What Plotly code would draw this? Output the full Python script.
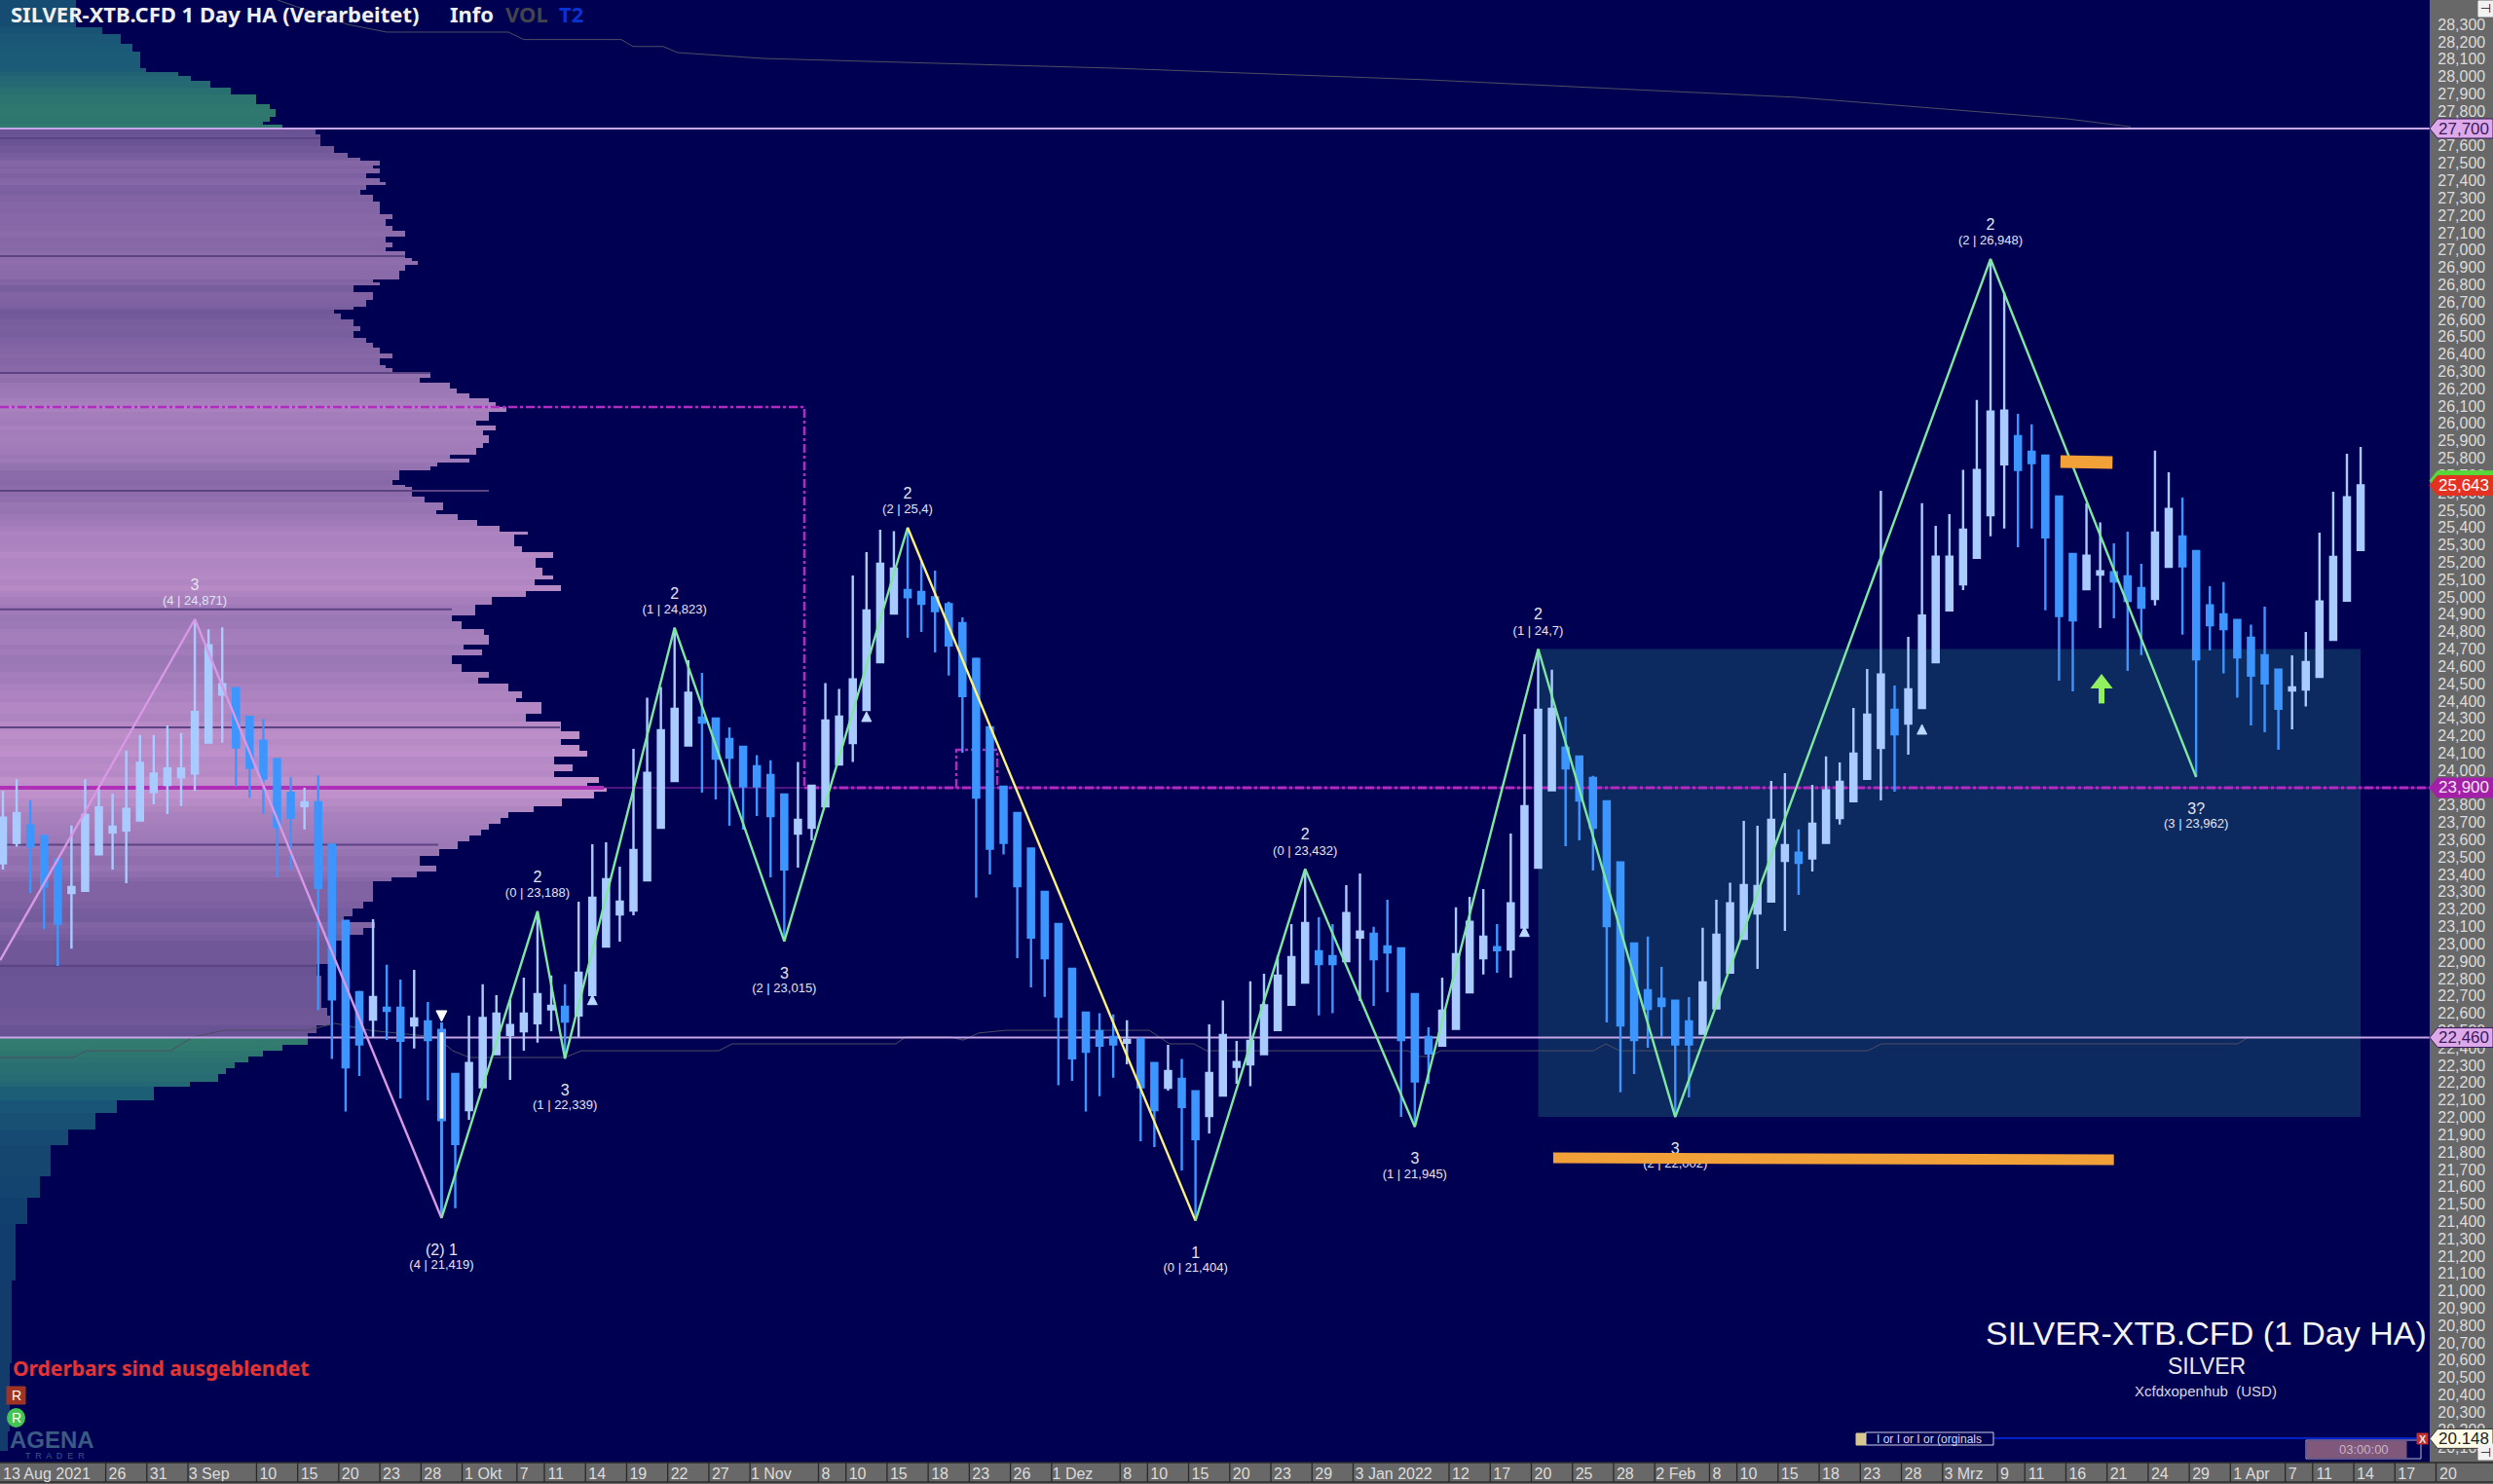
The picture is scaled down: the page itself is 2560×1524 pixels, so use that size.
import plotly.graph_objects as go

# ---------- chart data (prices in USD thousandths style) ----------
opens = [23.465,23.583,23.683,23.621,23.487,23.294,23.306,23.516,23.643,23.654,
23.711,23.876,23.916,23.96,23.982,24.16,24.437,24.474,24.308,24.171,
24.064,23.871,23.794,23.816,23.572,23.133,22.721,22.564,22.632,22.632,
22.53,22.553,21.986,22.25,22.042,22.173,22.364,22.476,22.497,22.542,
22.622,22.637,22.588,22.706,22.985,23.17,23.193,23.367,23.67,23.939,
24.144,24.304,24.299,24.181,24.136,24.024,23.973,23.861,23.636,23.67,
23.793,24.035,24.158,24.349,24.624,24.905,25.04,25.028,24.998,24.958,
24.849,24.643,24.248,23.906,23.754,23.549,23.3,23.114,22.856,22.603,
22.497,22.463,22.431,22.452,22.313,22.171,22.222,22.151,22.008,22.126,
22.291,22.306,22.364,22.503,22.65,22.777,22.957,22.929,22.901,23.036,
23.058,22.985,22.974,22.71,22.463,22.413,22.51,22.721,22.918,22.981,
22.968,23.094,23.44,23.885,24.13,24.08,23.956,23.822,23.47,23.002,
22.733,22.684,22.673,22.553,22.482,22.628,22.834,23.03,23.176,23.245,
23.479,23.526,23.492,23.582,23.726,23.822,23.951,24.13,24.349,24.27,
24.36,24.624,24.923,25.073,25.226,25.472,25.765,25.926,25.837,25.814,
25.578,25.247,25.045,25.129,25.142,25.118,25.051,24.989,25.174,25.348,
25.264,24.951,24.899,24.867,24.765,24.663,24.581,24.461,24.467,24.54,
24.753,24.979,25.27]
closes = [23.727,23.754,23.561,23.332,23.117,23.328,23.743,23.787,23.676,23.778,
24.044,23.982,24.011,24.011,24.337,24.721,24.497,24.133,24.015,23.953,
23.672,23.727,23.816,23.323,22.68,22.289,22.42,22.693,22.614,22.441,
22.57,22.446,22.502,21.846,22.313,22.572,22.598,22.532,22.598,22.71,
22.643,22.553,22.834,23.266,23.373,23.243,23.541,23.986,24.231,24.355,
24.447,24.276,24.068,24.074,23.908,23.908,23.737,23.429,23.715,23.911,
24.288,24.31,24.525,24.922,25.191,25.163,24.998,24.961,24.918,24.72,
24.428,23.844,23.549,23.582,23.333,23.036,22.918,22.581,22.341,22.379,
22.413,22.42,22.446,22.173,22.042,22.267,22.06,21.874,22.255,22.474,
22.319,22.441,22.645,22.817,22.924,23.12,22.884,22.884,23.178,23.071,
22.912,22.951,22.446,22.207,22.369,22.615,22.94,23.127,23.041,22.963,
23.234,23.793,24.349,24.355,24.012,23.827,23.67,23.103,22.53,22.446,
22.626,22.643,22.42,22.42,22.777,23.053,23.234,23.339,23.333,23.715,
23.569,23.468,23.692,23.885,23.934,24.097,24.321,24.553,24.209,24.467,
24.892,25.232,25.232,25.388,25.732,26.068,26.074,25.732,25.771,25.344,
24.89,24.865,25.238,25.148,25.09,24.978,24.938,25.371,25.507,25.176,
24.641,24.837,24.815,24.652,24.546,24.501,24.356,24.478,24.624,24.974,
25.23,25.574,25.643]
highs = [23.882,23.949,23.827,23.63,23.49,23.683,23.949,23.893,23.865,24.115,
24.204,24.204,24.259,24.215,24.869,24.814,24.825,24.48,24.31,24.297,
24.07,23.96,23.9,23.971,23.575,23.135,22.73,23.142,22.88,22.794,
22.85,22.665,22.547,22.25,22.587,22.768,22.705,22.676,22.806,23.183,
22.818,22.768,23.243,23.575,23.586,23.445,24.125,24.419,24.481,24.818,
24.635,24.562,24.3,24.248,24.14,24.088,24.059,23.865,24.048,23.915,
24.503,24.47,25.124,25.258,25.388,25.379,25.395,25.213,25.152,24.972,
24.882,24.65,24.25,23.91,23.76,23.55,23.3,23.115,22.86,22.61,
22.6,22.594,22.56,22.46,22.32,22.418,22.336,22.155,22.536,22.673,
22.441,22.785,22.828,22.935,23.114,23.429,23.154,23.114,23.339,23.406,
23.099,23.255,22.98,22.715,22.519,22.806,23.211,23.271,23.316,23.114,
23.636,24.209,24.699,24.581,24.31,24.08,23.969,23.825,23.47,23.005,
23.043,22.867,22.675,22.693,23.093,23.255,23.352,23.709,23.681,23.939,
23.984,23.66,23.917,24.081,24.046,24.36,24.585,25.612,24.49,24.77,
25.541,25.41,25.477,25.732,26.136,26.944,26.757,26.055,25.995,25.815,
25.58,25.25,25.541,25.429,25.309,25.376,25.191,25.844,25.719,25.573,
25.265,25.062,25.086,24.87,24.84,24.944,24.585,24.663,24.798,25.371,
25.606,25.825,25.865]
lows = [23.428,23.561,23.294,23.084,22.873,22.973,23.306,23.516,23.428,23.35,
23.711,23.805,23.749,23.794,23.882,24.16,24.16,23.909,23.842,23.749,
23.383,23.428,23.66,22.618,22.336,22.033,22.239,22.463,22.446,22.11,
22.397,22.098,21.425,21.477,21.986,22.173,22.364,22.216,22.385,22.43,
22.497,22.341,22.463,22.706,22.985,23.013,23.165,23.367,23.67,23.939,
24.144,23.872,23.833,23.681,23.659,23.737,23.384,23.013,23.44,23.597,
23.793,24.035,24.048,24.349,24.624,24.905,24.765,24.798,24.68,24.547,
24.102,23.267,23.4,23.516,22.918,22.749,22.695,22.185,22.21,22.033,
22.122,22.229,22.306,21.863,21.829,22.154,21.694,21.408,21.907,22.126,
22.194,22.179,22.364,22.503,22.645,22.777,22.588,22.6,22.901,22.671,
22.643,22.721,22.003,21.948,22.194,22.413,22.51,22.721,22.824,22.834,
22.806,23.094,23.44,23.885,23.563,23.597,23.423,22.547,22.145,22.25,
22.401,22.463,22.005,22.115,22.482,22.628,22.834,23.03,22.856,23.245,
23.075,23.283,23.417,23.582,23.688,23.822,23.951,23.827,23.878,24.091,
24.36,24.624,24.923,25.04,25.226,25.35,25.395,25.287,25.395,24.923,
24.518,24.456,25.045,24.821,24.877,24.574,24.665,24.951,25.174,24.783,
23.964,24.691,24.559,24.419,24.259,24.22,24.119,24.237,24.368,24.54,
24.753,24.979,25.27]
bar_index = list(range(len(opens)))
highlight_bar = 32

date_labels = ["13 Aug 2021","26","31","3 Sep","10","15","20","23","28","1 Okt","7","11","14","19","22","27",
"1 Nov","8","10","15","18","23","26","1 Dez","8","10","15","20","23","29","3 Jan 2022","12","17","20","25","28",
"2 Feb","8","10","15","18","23","28","3 Mrz","9","11","16","21","24","29","1 Apr","7","11","14","17","20"]
date_bars = [0,8,11,14,19,22,25,28,31,34,38,40,43,46,49,52,55,60,62,65,68,71,74,77,82,84,87,90,93,96,
99,106,109,112,115,118,121,125,127,130,133,136,139,142,146,148,151,154,157,160,163,167,169,172,175,178]

# volume profile: top price of each row and its length
profile_tops = [28.441,28.282,28.245,28.188,28.142,28.048,28.026,28.001,27.973,27.936,27.898,27.842,27.814,27.767,27.739,27.721,27.702,
27.693,27.665,27.599,27.562,27.534,27.515,27.487,27.468,27.44,27.412,27.393,27.375,27.346,27.318,27.281,27.206,27.178,27.141,27.109,27.075,27.041,27.015,26.991,26.954,26.935,26.912,26.879,26.832,26.813,26.794,26.757,26.71,26.673,26.654,26.636,26.598,26.561,26.533,26.495,26.467,26.439,26.402,26.374,26.336,26.317,26.299,26.261,26.233,26.201,26.173,26.143,26.121,26.093,26.065,26.018,25.99,25.962,25.934,25.887,25.859,25.822,25.799,25.775,25.752,25.728,25.672,25.644,
25.634,25.579,25.545,25.501,25.479,25.445,25.412,25.379,25.357,25.29,25.257,25.224,25.168,25.124,25.102,25.068,25.035,25.002,24.957,24.891,24.858,24.813,24.78,24.725,24.698,24.663,24.614,24.569,24.536,24.503,24.458,24.419,24.392,24.325,24.281,24.226,24.181,24.148,24.115,24.081,24.037,23.997,23.959,23.926,23.9,23.877,23.837,23.793,23.76,23.727,23.693,23.66,23.627,23.589,23.549,23.505,23.449,23.416,23.383,23.361,23.243,23.205,23.161,23.123,23.094,23.05,23.017,22.884,22.817,22.629,22.584,22.529,22.484,
22.46,22.418,22.385,22.351,22.318,22.285,22.252,22.207,22.174,22.098,22.025,21.93,21.84,21.66,21.537,21.385,21.06,20.583,20.19]
profile_bottom = 20.08
profile_volumes = [78,105,124,136,144,150,183,196,216,237,263,277,283,277,270,290,310,
324,329,343,357,370,390,383,390,376,390,396,376,370,383,390,403,396,403,416,396,403,396,416,423,429,416,410,383,390,363,383,376,363,343,350,363,370,363,376,383,390,403,390,396,403,442,431,462,469,482,502,509,520,502,489,509,496,502,496,489,462,482,449,442,410,403,416,
423,436,455,448,470,490,513,542,528,536,568,550,557,568,549,576,540,505,488,464,474,497,502,476,495,464,474,502,491,522,536,530,556,540,576,595,576,595,603,569,588,569,615,603,623,610,577,548,522,514,502,494,482,470,451,431,448,428,402,383,373,362,353,385,373,356,340,325,330,336,339,325,316,
316,290,270,255,241,232,224,195,158,120,98,70,52,41,28,16,12,10,8]
profile_grid_prices = [27.644,26.965,26.291,25.612,24.929,24.248,23.571,22.873]
profile_grid_volumes = [329,416,442,502,464,575,450,325]

# swing pivots
pivot_bars   = [14,32,39,41,49,57,66,87,95,103,112,122,145,160]
pivot_prices = [24.871,21.419,23.188,22.339,24.823,23.015,25.4,21.404,23.432,21.945,24.7,22.002,26.948,23.962]
pivot_titles = ["3","(2) 1","2","3","2","3","2","1","2","3","2","3","2","3?"]
pivot_notes  = ["(4 | 24,871)","(4 | 21,419)","(0 | 23,188)","(1 | 22,339)","(1 | 24,823)","(2 | 23,015)","(2 | 25,4)",
                "(0 | 21,404)","(0 | 23,432)","(1 | 21,945)","(1 | 24,7)","(2 | 22,002)","(2 | 26,948)","(3 | 23,962)"]
pivot_is_high = [1,0,1,0,1,0,1,0,1,0,1,0,1,0]
pink_start = (-0.2, 22.906)

# levels
vah, val, poc, last_price, poc2 = 27.7, 22.46, 23.9, 25.643, 26.095
lower_price = 20.148

# slow step lines (axis x: profile scale)
upper_step_x = [285,357,397,522,538,638,650,681,696,784,1143,1470,1845,2123,2188]
upper_step_y = [28.441,28.3,28.256,28.256,28.213,28.213,28.173,28.173,28.138,28.104,28.048,27.98,27.88,27.756,27.71]
lower_step_x = [0,75,89,175,198,230,316,344,379,448,465,482,580,597,738,752,920,930,976,989,1005,1033,1180,1190,1201,1226,1239,1446,1456,1469,1479,1636,1649,1663,1918,1932,2298,2309]
lower_step_y = [22.345,22.345,22.384,22.384,22.463,22.502,22.502,22.542,22.502,22.463,22.384,22.345,22.345,22.384,22.384,22.424,22.424,22.463,22.463,22.445,22.486,22.502,22.502,22.463,22.424,22.424,22.384,22.384,22.351,22.351,22.384,22.384,22.424,22.384,22.384,22.424,22.424,22.463]

# ---------- geometry / style ----------
W, H = 2560, 1524
PLOT_BOTTOM = 1502
PANEL_X = 2495
PITCH = 14.076
BG = "#000053"
PANEL = "#686868"
UP, DOWN = "#A9CBFF", "#3D96FF"
TXT = "#E4E4F2"
FONT = "Liberation Sans"
Y_TOP, Y_BOTTOM = 28.441, 20.010
X2_RANGE = [-3 / PITCH, (W - 3) / PITCH]

def px(x): return x / W
def py(y): return 1 - y / H

fig = go.Figure()

# ---------- volume profile ----------
edges = profile_tops + [profile_bottom]
centers = [(edges[i] + edges[i + 1]) / 2 for i in range(len(profile_tops))]
widths = [edges[i] - edges[i + 1] for i in range(len(profile_tops))]
in_va = [val <= c <= vah for c in centers]
def pick(seq, flag): return [s for s, f in zip(seq, in_va) if f == flag]

PURPLE = [[0, "#675293"], [0.27, "#8868A8"], [0.5, "#9C78B6"], [1, "#C292CC"]]
GREEN = [[0, "#113C6C"], [0.45, "#1B5A78"], [1, "#317C6E"]]
fig.add_trace(go.Bar(orientation="h", y=pick(centers, True), x=pick(profile_volumes, True), width=pick(widths, True),
                     marker=dict(color=pick(profile_volumes, True), colorscale=PURPLE, cmin=320, cmax=620, line_width=0),
                     xaxis="x", yaxis="y", hoverinfo="skip", showlegend=False))
fig.add_trace(go.Bar(orientation="h", y=pick(centers, False), x=pick(profile_volumes, False), width=pick(widths, False),
                     marker=dict(color=pick(profile_volumes, False), colorscale=GREEN, cmin=10, cmax=300, line_width=0),
                     xaxis="x", yaxis="y", hoverinfo="skip", showlegend=False))

def line_x(xs, ys, color, width, dash="solid"):
    fig.add_trace(go.Scatter(x=xs, y=ys, mode="lines", line=dict(color=color, width=width, dash=dash),
                             xaxis="x", yaxis="y", hoverinfo="skip", showlegend=False))

for p, v in zip(profile_grid_prices, profile_grid_volumes):
    line_x([0, v], [p, p], "#5C4384", 2)
line_x(upper_step_x, upper_step_y, "#4E4E62", 1)
line_x(lower_step_x, lower_step_y, "#4E4E62", 1)
LILAC = "#C6A6E6"
line_x([0, PANEL_X], [vah, vah], LILAC, 2)
line_x([0, PANEL_X], [val, val], LILAC, 2)
MAG = "#B02CC0"
line_x([0, PANEL_X], [poc, poc], "#9A2AB0", 1.2)
line_x([0, 620], [poc, poc], "#B030B8", 4)
line_x([826, PANEL_X], [poc, poc], MAG, 3, "dashdot")
line_x([0, 826, 826], [poc2, poc2, poc], MAG, 2.6, "dashdot")
line_x([982, 982, 1024, 1024], [poc, 24.119, 24.119, poc], MAG, 2.4, "dashdot")

# ---------- candles ----------
fig.add_trace(go.Candlestick(x=bar_index, open=opens, high=highs, low=lows, close=closes,
    increasing=dict(line=dict(color=UP, width=2.4), fillcolor=UP),
    decreasing=dict(line=dict(color=DOWN, width=2.4), fillcolor=DOWN),
    xaxis="x2", yaxis="y", hoverinfo="skip", showlegend=False))
b = highlight_bar
fig.add_trace(go.Candlestick(x=[b, b + 1000], open=[opens[b], 0], high=[highs[b], 0], low=[lows[b], 0], close=[closes[b], 0],
    increasing=dict(line=dict(color=DOWN, width=2.4), fillcolor="#FFFFFF"),
    decreasing=dict(line=dict(color=DOWN, width=0), fillcolor=DOWN),
    xaxis="x2", yaxis="y", hoverinfo="skip", showlegend=False))

# ---------- zigzag ----------
def line2(xs, ys, color, width):
    fig.add_trace(go.Scatter(x=xs, y=ys, mode="lines", line=dict(color=color, width=width),
                             xaxis="x2", yaxis="y", hoverinfo="skip", showlegend=False))
line2([pink_start[0], pivot_bars[0], pivot_bars[1]], [pink_start[1], pivot_prices[0], pivot_prices[1]], "#D898E6", 2.4)
line2(pivot_bars[1:7], pivot_prices[1:7], "#7FE8A0", 2.4)
line2(pivot_bars[6:8], pivot_prices[6:8], "#FFF27A", 2.4)
line2(pivot_bars[7:], pivot_prices[7:], "#7FE8A0", 2.4)

# ---------- pivot labels ----------
OFF_T_UP, OFF_N_UP, OFF_T_DN, OFF_N_DN = 0.191, 0.101, 0.191, 0.275
title_y = [p + (OFF_T_UP if h else -OFF_T_DN) for p, h in zip(pivot_prices, pivot_is_high)]
note_y = [p + (OFF_N_UP if h else -OFF_N_DN) for p, h in zip(pivot_prices, pivot_is_high)]
fig.add_trace(go.Scatter(x=pivot_bars, y=title_y, mode="text", text=pivot_titles, textposition="middle center",
                         textfont=dict(family=FONT, size=16, color=TXT), xaxis="x2", yaxis="y", hoverinfo="skip", showlegend=False))
fig.add_trace(go.Scatter(x=pivot_bars, y=note_y, mode="text", text=pivot_notes, textposition="middle center",
                         textfont=dict(family=FONT, size=13, color=TXT), xaxis="x2", yaxis="y", hoverinfo="skip", showlegend=False))

# ---------- drawn objects ----------
ORANGE = "#F2A038"
line2([113.1, 154], [21.767, 21.755], ORANGE, 11)
line2([150.1, 153.9], [25.78, 25.775], ORANGE, 13)

ARROW = "#90F060"
line2([153.1, 153.1], [24.386, 24.49], ARROW, 6)
fig.add_trace(go.Scatter(x=[153.1], y=[24.5], mode="markers", marker=dict(symbol="triangle-up", size=20, color=ARROW, line_width=0),
                         xaxis="x2", yaxis="y", hoverinfo="skip", showlegend=False))
signal_bars, signal_prices = [43, 63, 111, 140], [22.706, 24.338, 23.099, 24.265]
fig.add_trace(go.Scatter(x=signal_bars, y=signal_prices, mode="markers",
                         marker=dict(symbol="arrow-up", size=10, color="#BBD8FF", line=dict(width=1, color="#BBD8FF")),
                         xaxis="x2", yaxis="y", hoverinfo="skip", showlegend=False))
fig.add_trace(go.Scatter(x=[32], y=[22.553], mode="markers",
                         marker=dict(symbol="arrow-down", size=11, color="#FFFFFF", line=dict(width=1, color="#FFFFFF")),
                         xaxis="x2", yaxis="y", hoverinfo="skip", showlegend=False))

# ---------- shapes ----------
shapes = [
    dict(type="rect", layer="below", xref="x", yref="paper", x0=PANEL_X, x1=W, y0=0, y1=1, fillcolor=PANEL, line_width=0),
    dict(type="rect", layer="below", xref="x2", yref="y", x0=pivot_bars[10], x1=172, y0=22.002, y1=24.7, fillcolor="#0C2A60", line_width=0),
    # bottom panel borders
    dict(type="line", xref="paper", yref="paper", x0=0, x1=1, y0=py(PLOT_BOTTOM), y1=py(PLOT_BOTTOM), line=dict(color="#2A2A2A", width=1.5)),
    dict(type="line", xref="paper", yref="paper", x0=0, x1=1, y0=py(1522), y1=py(1522), line=dict(color="#2A2A2A", width=1.5)),
]
for n in date_bars[1:]:
    shapes.append(dict(type="line", xref="x2", yref="paper", x0=n - 0.5, x1=n - 0.5, y0=py(1522), y1=py(PLOT_BOTTOM),
                       line=dict(color="#2A2A2A", width=1.3)))

annots = []
def note(x, y, text, size, color, anchor="left", family=FONT, bold=False, bg=None):
    annots.append(dict(xref="paper", yref="paper", x=px(x), y=py(y), xanchor=anchor, yanchor="middle", showarrow=False,
                       text=f"<b>{text}</b>" if bold else text, font=dict(family=family, size=size, color=color),
                       bgcolor=bg))

def tag(price, fill, text, color, border=None):
    h = 0.056
    path = f"M {PANEL_X},{price} L {PANEL_X + 8},{price + h} L {W},{price + h} L {W},{price - h} L {PANEL_X + 8},{price - h} Z"
    shapes.append(dict(type="path", xref="x", yref="y", path=path, fillcolor=fill, line=dict(color=border or fill, width=1)))
    if text:
        annots.append(dict(xref="x", yref="y", x=2530, y=price, xanchor="center", yanchor="middle", showarrow=False,
                           text=text, font=dict(family=FONT, size=17, color=color)))

tag(vah, "#DDA9E8", "27,700", "#3A1A5C", "#3A1A5C")
tag(val, "#DDA9E8", "22,460", "#3A1A5C", "#3A1A5C")
tag(poc, "#A41FA8", "23,900", "#F2E4F2")
tag(25.67, "#58D838", "", "#103010")
tag(last_price, "#E43222", "25,643", "#FFFFFF")
tag(lower_price, "#FFFBE6", "20.148", "#222222", "#333333")

def rect(x0, y0, x1, y1, fill, border=None, width=1):
    shapes.append(dict(type="rect", xref="paper", yref="paper", x0=px(x0), x1=px(x1), y0=py(y1), y1=py(y0),
                       fillcolor=fill, line=dict(color=border or fill, width=width)))

# pin icons
for top in (0, 1482):
    rect(2545, top + 1, 2560, top + 17, "#F2F2F2")
    note(2552, top + 9, "⊣", 13, "#111111", "center", "DejaVu Sans")

# replay bar at the bottom right
shapes.append(dict(type="line", xref="paper", yref="paper", x0=px(2047), x1=px(2482), y0=py(1477), y1=py(1477), line=dict(color="#0022C8", width=2)))
rect(1906, 1472, 1916, 1484, "#D8C890")
rect(1916, 1471, 2047, 1484, BG, "#D0D0E8", 1)
note(1981, 1477.5, "I or I or I or (orginals", 12, "#D8D8E8", "center")
rect(2368, 1479, 2486, 1498, BG, "#B8B0D0", 1)
rect(2369, 1480, 2471, 1497, "#80587C")
note(2427, 1488, "03:00:00", 13, "#C8B4C4", "center")
rect(2482, 1472, 2493, 1483, "#C03030")
note(2487.5, 1477.5, "X", 11, "#F0E0E0", "center", FONT, True)

# left-hand status items
rect(7, 1424, 26, 1442, "#A03424")
note(16.5, 1433, "R", 14, "#FFFFFF", "center")
shapes.append(dict(type="circle", xref="paper", yref="paper", x0=px(7), x1=px(26), y0=py(1466), y1=py(1446), fillcolor="#44C454", line_width=0))
note(16.5, 1456, "R", 14, "#FFFFFF", "center")
note(8, 1478, "AGENA", 24, "#3A5A84", "left", FONT, True)
note(24, 1495, "T  R  A  D  E  R", 9, "#3A5A84", "left")
note(11, 1405, "Orderbars sind ausgeblendet", 21, "#E43434", "left", "Noto Sans", True)

# header
note(9, 14, "SILVER-XTB.CFD 1 Day HA (Verarbeitet)", 22, "#F0F0F0", "left", "Noto Sans", True)
note(460, 14, "Info", 22, "#F0F0F0", "left", "Noto Sans", True)
note(517, 14, "VOL", 22, "#44444C", "left", "Noto Sans", True)
note(572, 14, "T2", 22, "#0A32D0", "left", "Noto Sans", True)

# watermark
note(2494, 1369, "SILVER-XTB.CFD (1 Day HA)", 34, "#F4F4F8", "right")
note(2266, 1403, "SILVER", 23, "#E8E8F0", "center")
note(2265, 1428, "Xcfdxopenhub&nbsp;&nbsp;(USD)", 15, "#D8D8E4", "center")

# ---------- axes ----------
y_tickvals = [round(20.1 + 0.1 * i, 1) for i in range(83)]
covered_by_tag = (27.7, 23.9)
y_ticktext = ["" if v in covered_by_tag else f"{v:.3f}".replace(".", ",") for v in y_tickvals]

def text_px(label):
    return sum(4.4 if c == " " else 8.9 if c.isdigit() else 8.0 for c in label)
# the first label and the last one sit at the page edges, where the axis drops its tick labels
x_tickvals = [n - 0.5 + (3 + text_px(t) / 2) / PITCH for n, t in zip(date_bars, date_labels)][1:-1]
note(1, 1513, date_labels[0], 16, "#DCDCDC", "left")
note(2503, 1513, date_labels[-1], 16, "#DCDCDC", "left")

fig.update_layout(
    width=W, height=H, autosize=False,
    margin=dict(l=0, r=0, t=0, b=0, pad=0),
    paper_bgcolor=PANEL, plot_bgcolor=BG,
    showlegend=False, barmode="overlay", bargap=0, boxmode="overlay", boxgap=0.38,
    hovermode=False,
    xaxis=dict(domain=[0, 1], range=[0, W], visible=False, fixedrange=True),
    xaxis2=dict(domain=[0, 1], range=X2_RANGE, overlaying="x", anchor="y", side="bottom", tickmode="array",
                tickvals=x_tickvals, ticktext=date_labels[1:-1], tickangle=0, ticks="", showgrid=False, zeroline=False,
                showline=False, rangeslider=dict(visible=False), tickfont=dict(family=FONT, size=16, color="#DCDCDC"),
                fixedrange=True),
    yaxis=dict(domain=[(H - PLOT_BOTTOM) / H, 1], range=[Y_BOTTOM, Y_TOP], side="right", tickmode="array",
               tickvals=y_tickvals, ticktext=y_ticktext, ticklabelposition="inside", ticks="inside", ticklen=8,
               tickcolor=PANEL, showgrid=False, zeroline=False, showline=False,
               tickfont=dict(family=FONT, size=16, color="#DCDCDC"), fixedrange=True),
    shapes=shapes, annotations=annots,
)

fig.write_html("out.html", config=dict(displayModeBar=False),
               post_script="document.body.style.margin='0';document.body.style.overflow='hidden';")
